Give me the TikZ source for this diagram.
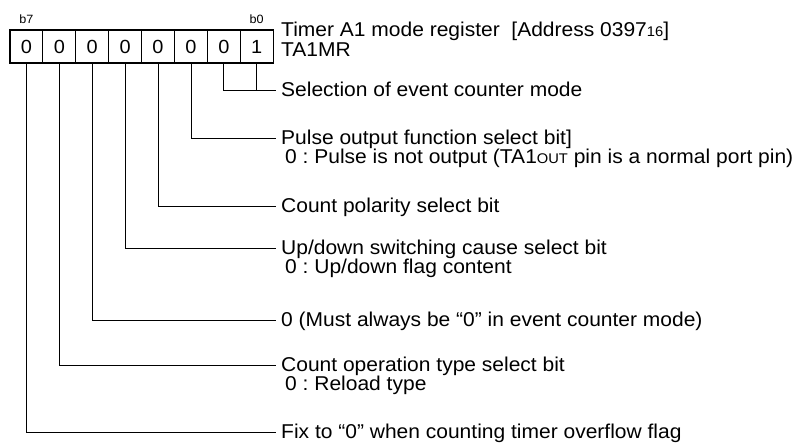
\documentclass[tikz,border=0pt]{standalone}
\usepackage{fontspec}
\setmainfont{Liberation Sans}[FakeStretch=1.05]
\usetikzlibrary{positioning}
\frenchspacing

\tikzset{
  regcell/.style={draw, line width=1.1pt, minimum width=32.9pt, minimum height=33pt,
    inner sep=0pt, outer sep=0pt, font=\fontsize{19}{19}\selectfont},
  bitlbl/.style={inner sep=0pt, font=\fontsize{12}{12}\selectfont},
  desc/.style={anchor=west, inner xsep=5pt, inner ysep=0pt, text height=14pt,
    text depth=0pt, font=\fontsize{20}{24}\selectfont},
  lead/.style={line width=0.8pt}
}
\newcommand{\smalltxt}[1]{{\fontsize{14}{14}\selectfont #1}}

\begin{document}
\begin{tikzpicture}[x=1pt, y=-1pt]
    \useasboundingbox (0,0) rectangle (796,443);
    % register cells, b7 ... b0
    \node[regcell] (c7) at (26.4,46.5) {0};
    \node[regcell, right=0pt of c7] (c6) {0};
    \node[regcell, right=0pt of c6] (c5) {0};
    \node[regcell, right=0pt of c5] (c4) {0};
    \node[regcell, right=0pt of c4] (c3) {0};
    \node[regcell, right=0pt of c3] (c2) {0};
    \node[regcell, right=0pt of c2] (c1) {0};
    \node[regcell, right=0pt of c1] (c0) {1};
    \node[bitlbl] (b7) at (26.4,19) {b7};
    \node[bitlbl] (b0) at (256.7,19) {b0};

    % register name
    \node[desc] (title) at (276,30) {Timer A1 mode register\ \ [Address 0397\smalltxt{16}]};
    \node[desc] (regname) at (276,49.5) {TA1MR};

    % bit descriptions
    \node[desc] (t1) at (276,90) {Selection of event counter mode};
    \node[desc] (t2) at (276,138) {Pulse output function select bit]};
    \node[desc] (t2b) at ([xshift=4pt,yshift=-19pt]t2.west) {0 : Pulse is not output (TA1\smalltxt{OUT} pin is a normal port pin)};
    \node[desc] (t3) at (276,206) {Count polarity select bit};
    \node[desc] (t4) at (276,248) {Up/down switching cause select bit};
    \node[desc] (t4b) at ([xshift=4pt,yshift=-19pt]t4.west) {0 : Up/down flag content};
    \node[desc] (t5) at (276,320) {0 (Must always be “0” in event counter mode)};
    \node[desc] (t6) at (276,365) {Count operation type select bit};
    \node[desc] (t6b) at ([xshift=4pt,yshift=-19pt]t6.west) {0 : Reload type};
    \node[desc] (t7) at (276,432) {Fix to “0” when counting timer overflow flag};

    % leaders
    \draw[lead] (c1.south) |- (t1.west);
    \draw[lead] (c0.south) -- (c0.south |- t1.west);
    \draw[lead] (c2.south) |- (t2.west);
    \draw[lead] (c3.south) |- (t3.west);
    \draw[lead] (c4.south) |- (t4.west);
    \draw[lead] (c5.south) |- (t5.west);
    \draw[lead] (c6.south) |- (t6.west);
    \draw[lead] (c7.south) |- (t7.west);
\end{tikzpicture}
\end{document}
